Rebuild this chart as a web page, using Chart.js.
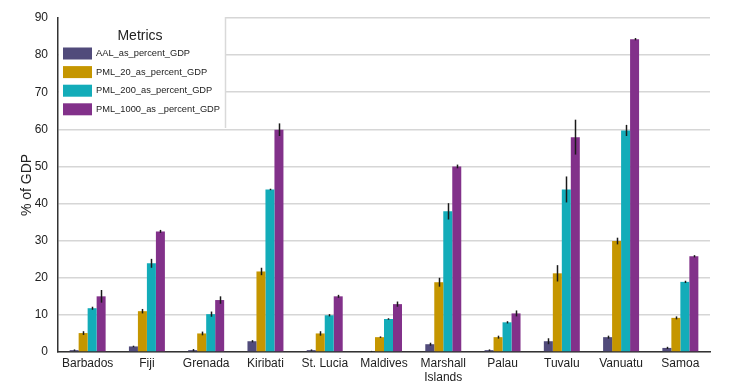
<!DOCTYPE html>
<html>
<head>
<meta charset="utf-8">
<script src="https://cdn.jsdelivr.net/npm/chart.js@4"></script>
<style>
html,body{margin:0;padding:0;background:#fff;}
#wrap{width:737px;height:388px;position:relative;}
</style>
</head>
<body>
<div id="wrap"><canvas id="c" width="737" height="388"></canvas></div>
<script>
const categories = ["Barbados","Fiji","Grenada","Kiribati","St. Lucia","Maldives",["Marshall","Islands"],"Palau","Tuvalu","Vanuatu","Samoa"];
const seriesNames = ["AAL_as_percent_GDP","PML_20_as_percent_GDP","PML_200_as_percent_GDP","PML_1000_as _percent_GDP"];
const aal      = [0.5, 1.5, 0.5, 2.9, 0.5, 0.2, 2.1, 0.5, 2.9, 4.0, 1.1];
const aalErr   = [0.2, 0.2, 0.3, 0.3, 0.2, 0.1, 0.4, 0.2, 0.8, 0.4, 0.3];
const pml20    = [5.1, 11.0, 5.0, 21.7, 5.0, 4.0, 18.8, 4.0, 21.2, 29.9, 9.2];
const pml20Err = [0.5, 0.6, 0.5, 1.0, 0.6, 0.2, 1.2, 0.4, 2.2, 0.9, 0.4];
const pml200   = [11.8, 23.9, 10.2, 43.8, 9.9, 8.9, 37.9, 8.0, 43.8, 59.7, 18.9];
const pml200Err= [0.4, 1.2, 0.7, 0.2, 0.3, 0.2, 2.2, 0.3, 3.5, 1.5, 0.3];
const pml1000  = [15.0, 32.5, 14.0, 59.9, 15.0, 12.9, 50.0, 10.4, 57.9, 84.3, 25.8];
const pml1000Err=[1.7, 0.4, 1.0, 1.7, 0.4, 0.7, 0.5, 0.8, 4.7, 0.3, 0.3];
const yTicks = [0,10,20,30,40,50,60,70,80,90];
const colors = ["#514b7b","#c59600","#13acb9","#82318a"];

const values = [aal, pml20, pml200, pml1000];
const errors = [aalErr, pml20Err, pml200Err, pml1000Err];

const errorBars = {
  id: 'errorBars',
  afterDatasetsDraw(chart) {
    const ctx = chart.ctx, y = chart.scales.y;
    ctx.save();
    ctx.strokeStyle = '#1a1a1a';
    ctx.lineWidth = 1.5;
    chart.data.datasets.forEach((ds, di) => {
      const meta = chart.getDatasetMeta(di);
      meta.data.forEach((bar, i) => {
        const v = ds.data[i], e = ds.err[i];
        const x = Math.round(bar.x) + 0.5;
        ctx.beginPath();
        ctx.moveTo(x, y.getPixelForValue(v + e));
        ctx.lineTo(x, y.getPixelForValue(Math.max(0, v - e)));
        ctx.stroke();
      });
    });
    ctx.restore();
  }
};

const boxLegend = {
  id: 'boxLegend',
  afterDraw(chart) {
    const ctx = chart.ctx, a = chart.chartArea;
    const left = a.left + 1, top = a.top, right = 225.5, bottom = 128;
    ctx.save();
    ctx.fillStyle = '#fff';
    ctx.fillRect(left, top - 1, right - left, bottom - top + 1);
    ctx.strokeStyle = '#d9d9d9';
    ctx.lineWidth = 1.5;
    ctx.beginPath();
    ctx.moveTo(right, top - 1);
    ctx.lineTo(right, bottom);
    ctx.stroke();
    ctx.fillStyle = '#222';
    ctx.font = '14px "Liberation Sans", Arial, sans-serif';
    ctx.textAlign = 'center';
    ctx.textBaseline = 'middle';
    ctx.fillText('Metrics', 140, 36);
    ctx.font = '9.3px "Liberation Sans", Arial, sans-serif';
    ctx.textAlign = 'left';
    chart.data.datasets.forEach((ds, i) => {
      const cy = 53.5 + i * 18.6;
      ctx.fillStyle = ds.backgroundColor;
      ctx.fillRect(63, cy - 6, 29, 12);
      ctx.fillStyle = '#222';
      ctx.fillText(ds.label, 96, cy);
    });
    ctx.restore();
  }
};

new Chart(document.getElementById('c'), {
  type: 'bar',
  data: {
    labels: categories,
    datasets: values.map((v, i) => ({
      label: seriesNames[i],
      data: v,
      err: errors[i],
      backgroundColor: colors[i],
      borderWidth: 0,
      categoryPercentage: 0.607,
      barPercentage: 1.0
    }))
  },
  options: {
    responsive: false,
    animation: false,
    devicePixelRatio: 1,
    layout: { padding: { top: 18, right: 27, left: 0, bottom: 0 } },
    plugins: { legend: { display: false }, tooltip: { enabled: false } },
    scales: {
      x: {
        grid: { display: false, drawTicks: false },
        border: { display: true, color: '#333', width: 1.5 },
        ticks: { color: '#222', font: { family: '"Liberation Sans", Arial, sans-serif', size: 12 }, padding: 4, maxRotation: 0, autoSkip: false },
        afterFit(s) { s.height = 36; }
      },
      y: {
        min: 0, max: 90,
        afterBuildTicks(s) { s.ticks = yTicks.map(v => ({ value: v })); },
        grid: { color: '#d6d6d6', lineWidth: 1.5, drawTicks: false },
        border: { display: true, color: '#333', width: 1.5 },
        ticks: { color: '#222', font: { family: '"Liberation Sans", Arial, sans-serif', size: 12 }, padding: 10 },
        title: { display: true, text: '% of GDP', color: '#222', font: { family: '"Liberation Sans", Arial, sans-serif', size: 14 }, padding: { top: 19, bottom: 0 } },
        afterFit(s) { s.width = 58; }
      }
    }
  },
  plugins: [errorBars, boxLegend]
});
</script>
</body>
</html>
